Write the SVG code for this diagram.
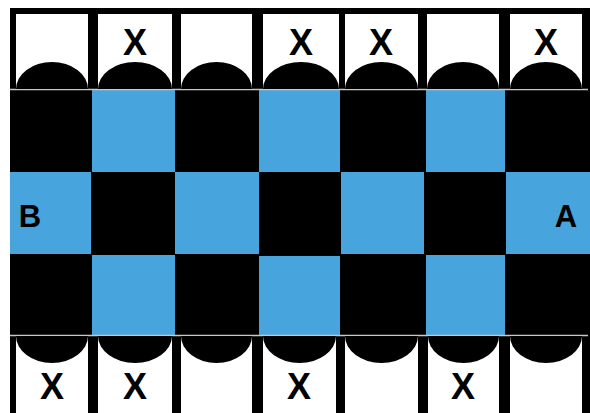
<svg xmlns="http://www.w3.org/2000/svg" width="590" height="413" viewBox="0 0 590 413">
<style>
.frame{fill:#000}
.cell{fill:#fff}
.cap{fill:#000}
.blue{fill:#47a4dc}
.sep{stroke:#c8c8c8;stroke-width:1.5;fill:none}
.x{font-family:"Liberation Sans",Arial,sans-serif;font-weight:bold;font-size:36px;fill:#000;text-anchor:middle}
.lbl{font-family:"Liberation Sans",Arial,sans-serif;font-weight:bold;font-size:31px;fill:#000;text-anchor:middle}
</style>
<rect width="590" height="413" fill="#fff"/>
<g id="board">
<rect class="frame" x="10" y="8" width="580" height="405"/>
<rect class="blue" x="92" y="90" width="83" height="82"/>
<rect class="blue" x="259" y="90" width="81" height="82"/>
<rect class="blue" x="426" y="90" width="79" height="82"/>
<rect class="blue" x="10" y="172" width="81" height="82"/>
<rect class="blue" x="175" y="172" width="84" height="82"/>
<rect class="blue" x="341" y="172" width="83" height="82"/>
<rect class="blue" x="506" y="172" width="84" height="82"/>
<rect class="blue" x="92" y="255" width="83" height="80"/>
<rect class="blue" x="259" y="256" width="81" height="79"/>
<rect class="blue" x="426" y="255" width="79" height="80"/>
<text class="lbl" x="30" y="227">B</text>
<text class="lbl" x="566" y="227">A</text>
</g>
<g id="connectors">
<line class="sep" x1="10" y1="89.5" x2="588" y2="89.5"/>
<line class="sep" x1="10" y1="335.5" x2="588" y2="335.5"/>
</g>
<g id="top-0"><rect class="cell" x="16" y="14" width="72" height="75"/><path class="cap" d="M16,89 A36,27 0 0 1 88,89 Z"/></g>
<g id="top-1"><rect class="cell" x="98" y="14" width="74" height="75"/><path class="cap" d="M98,89 A37,27 0 0 1 172,89 Z"/><text class="x" x="135" y="55">X</text></g>
<g id="top-2"><rect class="cell" x="181" y="14" width="71" height="75"/><path class="cap" d="M181,89 A35.5,27 0 0 1 252,89 Z"/></g>
<g id="top-3"><rect class="cell" x="263" y="14" width="76" height="75"/><path class="cap" d="M263,89 A38,27 0 0 1 339,89 Z"/><text class="x" x="301" y="55">X</text></g>
<g id="top-4"><rect class="cell" x="345" y="14" width="73" height="75"/><path class="cap" d="M345,89 A36.5,27 0 0 1 418,89 Z"/><text class="x" x="381" y="55">X</text></g>
<g id="top-5"><rect class="cell" x="427" y="14" width="72" height="75"/><path class="cap" d="M427,89 A36,27 0 0 1 499,89 Z"/></g>
<g id="top-6"><rect class="cell" x="510" y="14" width="72" height="75"/><path class="cap" d="M510,89 A36,27 0 0 1 582,89 Z"/><text class="x" x="546" y="55">X</text></g>
<g id="bot-0"><rect class="cell" x="16" y="336" width="72" height="77"/><path class="cap" d="M16,336 A36,27 0 0 0 88,336 Z"/><text class="x" x="52" y="399">X</text></g>
<g id="bot-1"><rect class="cell" x="98" y="336" width="74" height="77"/><path class="cap" d="M98,336 A37,27 0 0 0 172,336 Z"/><text class="x" x="135" y="399">X</text></g>
<g id="bot-2"><rect class="cell" x="181" y="336" width="71" height="77"/><path class="cap" d="M181,336 A35.5,27 0 0 0 252,336 Z"/></g>
<g id="bot-3"><rect class="cell" x="263" y="336" width="73" height="77"/><path class="cap" d="M263,336 A36.5,27 0 0 0 336,336 Z"/><text class="x" x="299" y="399">X</text></g>
<g id="bot-4"><rect class="cell" x="345" y="336" width="73" height="77"/><path class="cap" d="M345,336 A36.5,27 0 0 0 418,336 Z"/></g>
<g id="bot-5"><rect class="cell" x="428" y="336" width="71" height="77"/><path class="cap" d="M428,336 A35.5,27 0 0 0 499,336 Z"/><text class="x" x="463" y="399">X</text></g>
<g id="bot-6"><rect class="cell" x="510" y="336" width="72" height="77"/><path class="cap" d="M510,336 A36,27 0 0 0 582,336 Z"/></g>
</svg>
